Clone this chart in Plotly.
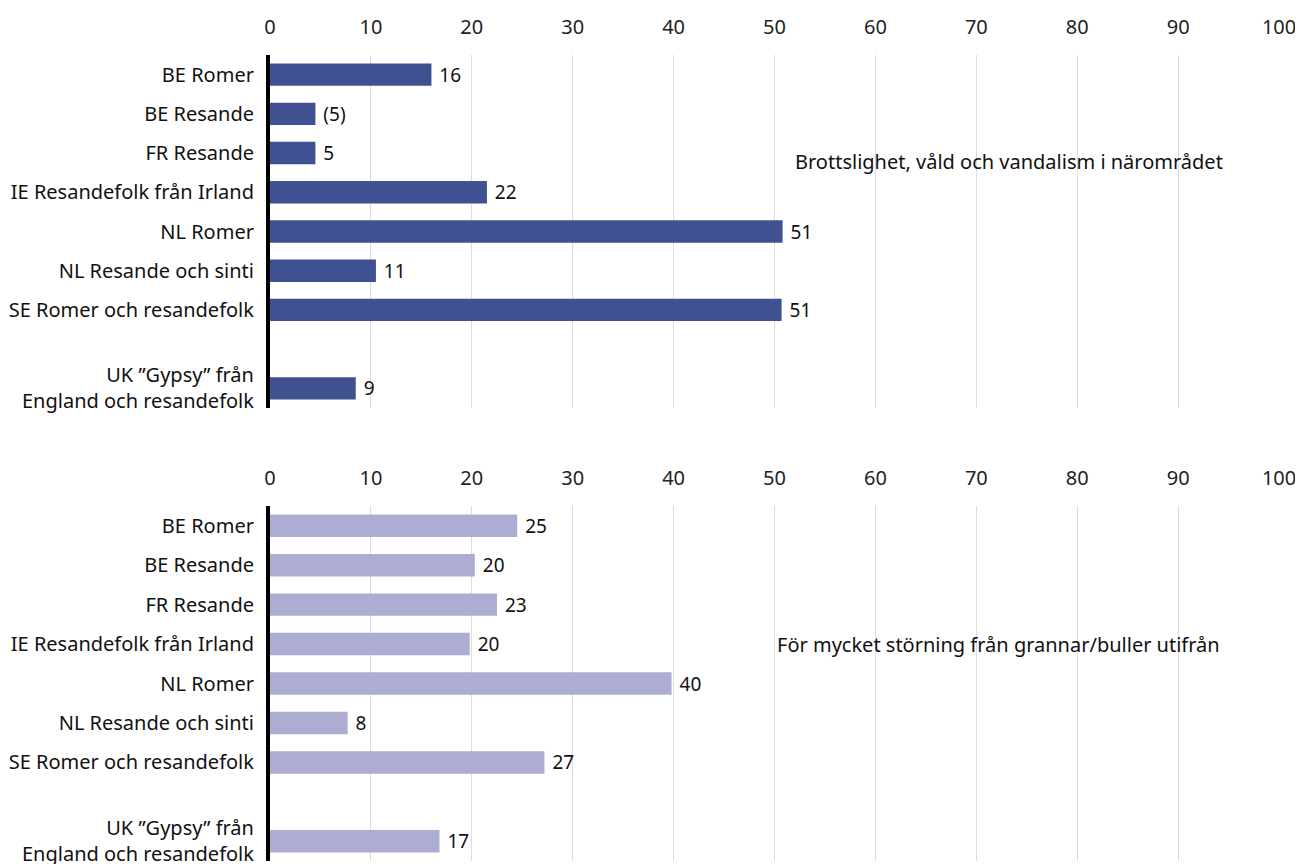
import plotly.graph_objects as go
from plotly.subplots import make_subplots

# categories, top to bottom; " " is the empty slot before the UK group
categories = [
    "BE Romer",
    "BE Resande",
    "FR Resande",
    "IE Resandefolk från Irland",
    "NL Romer",
    "NL Resande och sinti",
    "SE Romer och resandefolk",
    " ",
    "UK ”Gypsy” från<br>England och resandefolk",
]

crime_values = [16, 4.5, 4.5, 21.5, 50.8, 10.5, 50.7, None, 8.5]
crime_labels = ["16", "(5)", "5", "22", "51", "11", "51", "", "9"]

noise_values = [24.5, 20.3, 22.5, 19.8, 39.8, 7.7, 27.2, None, 16.8]
noise_labels = ["25", "20", "23", "20", "40", "8", "27", "", "17"]

panel_titles = [
    "Brottslighet, våld och vandalism i närområdet",
    "För mycket störning från grannar/buller utifrån",
]

tick_vals = list(range(0, 101, 10))

FONT = "Noto Sans"
TXT = "#111111"

fig = make_subplots(rows=2, cols=1)

series = [
    (crime_values, crime_labels, "#3F5190"),
    (noise_values, noise_labels, "#ADADD3"),
]
for i, (vals, labels, color) in enumerate(series, start=1):
    fig.add_trace(go.Bar(
        x=vals,
        y=categories,
        orientation="h",
        marker_color=color,
        marker_line_width=0,
        text=["\u00a0" + t for t in labels],
        textposition="outside",
        constraintext="none",
        textfont=dict(family=FONT, size=19, color=TXT),
        cliponaxis=False,
        hoverinfo="skip",
    ), row=i, col=1)

# page body has an 8px margin, so the figure is 8px smaller each way
domains = [[0.5327, 0.9451], [0.0035, 0.4182]]
for i in (1, 2):
    fig.update_xaxes(
        row=i, col=1,
        domain=[0.2023, 0.9815],
        range=[0, 100],
        side="top",
        tickvals=tick_vals,
        showgrid=True,
        gridcolor="#dcdcdc",
        gridwidth=1,
        zeroline=False,
        showline=False,
        ticks="",
        ticklabelstandoff=16,
        tickfont=dict(family=FONT, size=20, color="#222222"),
        automargin=False,
    )
    fig.update_yaxes(
        row=i, col=1,
        domain=domains[i - 1],
        categoryorder="array",
        categoryarray=categories,
        autorange="reversed",
        showline=True,
        linecolor="black",
        linewidth=4,
        showgrid=False,
        ticks="",
        ticklabelstandoff=8,
        tickfont=dict(family=FONT, size=20, color=TXT),
        automargin=False,
    )

fig.add_annotation(
    x=0.9398, y=0.8201, xref="paper", yref="paper",
    text=panel_titles[0], showarrow=False,
    xanchor="right", yanchor="middle",
    font=dict(family=FONT, size=20, color=TXT),
)
fig.add_annotation(
    x=0.9375, y=0.257, xref="paper", yref="paper",
    text=panel_titles[1], showarrow=False,
    xanchor="right", yanchor="middle",
    font=dict(family=FONT, size=20, color=TXT),
)

fig.update_layout(
    width=1295,
    height=856,
    margin=dict(l=0, r=0, t=0, b=0),
    plot_bgcolor="white",
    paper_bgcolor="white",
    showlegend=False,
    bargap=0.43,
    font=dict(family=FONT),
)

fig.write_html("out.html")
